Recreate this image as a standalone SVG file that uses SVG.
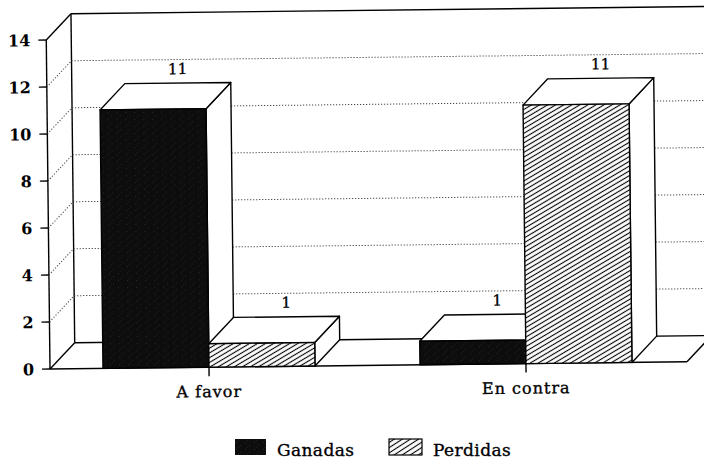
<svg xmlns="http://www.w3.org/2000/svg" width="704" height="460" viewBox="0 0 704 460">
  <defs>
    <pattern id="hatch" patternUnits="userSpaceOnUse" width="4" height="4.1" patternTransform="rotate(-30)">
      <rect width="4" height="4.1" fill="#fff"/>
      <line x1="0" y1="2.05" x2="4" y2="2.05" stroke="#000" stroke-width="1.1"/>
    </pattern>
    <pattern id="hatchLeg" patternUnits="userSpaceOnUse" width="4" height="4.4" patternTransform="rotate(-33)">
      <rect width="4" height="4.4" fill="#fff"/>
      <line x1="0" y1="2.2" x2="4" y2="2.2" stroke="#000" stroke-width="1.1"/>
    </pattern>
    <pattern id="solid" patternUnits="userSpaceOnUse" width="9" height="7">
      <rect width="9" height="7" fill="#0d0d0d"/>
      <rect x="2" y="1" width="0.8" height="0.8" fill="#3a3a3a"/>
      <rect x="6" y="4" width="0.8" height="0.8" fill="#2e2e2e"/>
      <rect x="4" y="6" width="0.7" height="0.7" fill="#333"/>
    </pattern>
  </defs>
  <style>
    .ln { stroke: #000; stroke-width: 1.4; fill: none; stroke-linejoin: round; }
    .face { fill: #fff; stroke: #000; stroke-width: 1.4; stroke-linejoin: round; }
    .grid { stroke: #444; stroke-width: 1; stroke-dasharray: 1.2 1.8; fill: none; }
    .tick { font-family: "DejaVu Serif", "Liberation Serif", serif; font-weight: bold; font-size: 16px; fill: #000; text-anchor: end; }
    .val { font-family: "DejaVu Serif", "Liberation Serif", serif; font-size: 15px; fill: #000; stroke: #000; stroke-width: 0.35; text-anchor: middle; }
    .cat { font-family: "DejaVu Serif", "Liberation Serif", serif; font-size: 16px; letter-spacing: 1px; fill: #000; stroke: #000; stroke-width: 0.35; text-anchor: middle; }
    .leg { font-family: "DejaVu Serif", "Liberation Serif", serif; font-size: 17px; letter-spacing: 0.4px; fill: #000; stroke: #000; stroke-width: 0.35; }
  </style>
  <rect width="704" height="460" fill="#fff"/>
  <g id="chart" transform="rotate(-0.65 50 369)">
    <g id="walls">
      <polygon points="75,14 760,14 760,343 75,343" fill="#fff"/>
      <line class="ln" x1="75" y1="14" x2="760" y2="14"/>
      <line class="ln" x1="75" y1="14" x2="75" y2="343"/>
      <line class="ln" x1="50" y1="40" x2="75" y2="14"/>
      <line class="ln" x1="50" y1="40" x2="50" y2="369"/>
      <g id="gridlines">
        <line class="grid" x1="75" y1="296" x2="760" y2="296"/>
        <line class="grid" x1="75" y1="249" x2="760" y2="249"/>
        <line class="grid" x1="75" y1="202" x2="760" y2="202"/>
        <line class="grid" x1="75" y1="155" x2="760" y2="155"/>
        <line class="grid" x1="75" y1="108" x2="760" y2="108"/>
        <line class="grid" x1="75" y1="61" x2="760" y2="61"/>
        <line class="grid" x1="50" y1="322" x2="75" y2="296"/>
        <line class="grid" x1="50" y1="275" x2="75" y2="249"/>
        <line class="grid" x1="50" y1="228" x2="75" y2="202"/>
        <line class="grid" x1="50" y1="181" x2="75" y2="155"/>
        <line class="grid" x1="50" y1="134" x2="75" y2="108"/>
        <line class="grid" x1="50" y1="87" x2="75" y2="61"/>
      </g>
      <g id="floor">
        <line class="ln" x1="50" y1="369" x2="687" y2="369"/>
        <line class="ln" x1="75" y1="343" x2="740" y2="343"/>
        <line class="ln" x1="50" y1="369" x2="75" y2="343"/>
        <line class="ln" x1="687" y1="369" x2="712" y2="343"/>
      </g>
    </g>
    <g id="y-axis">
      <line class="ln" x1="42" y1="369" x2="50" y2="369"/>
      <line class="ln" x1="42" y1="322" x2="50" y2="322"/>
      <line class="ln" x1="42" y1="275" x2="50" y2="275"/>
      <line class="ln" x1="42" y1="228" x2="50" y2="228"/>
      <line class="ln" x1="42" y1="181" x2="50" y2="181"/>
      <line class="ln" x1="42" y1="134" x2="50" y2="134"/>
      <line class="ln" x1="42" y1="87" x2="50" y2="87"/>
      <line class="ln" x1="42" y1="40" x2="50" y2="40"/>
      <text class="tick" x="34" y="375">0</text>
      <text class="tick" x="34" y="328">2</text>
      <text class="tick" x="34" y="281">4</text>
      <text class="tick" x="34" y="234">6</text>
      <text class="tick" x="34" y="187">8</text>
      <text class="tick" x="34" y="140">10</text>
      <text class="tick" x="34" y="93">12</text>
      <text class="tick" x="34" y="46">14</text>
    </g>
    <g id="bar-afavor-ganadas">
      <polygon class="face" points="209,110.5 234,84.5 234,343 209,369"/>
      <polygon class="face" points="103,110.5 209,110.5 234,84.5 128,84.5"/>
      <rect x="103" y="110.5" width="106" height="258.5" fill="url(#solid)" stroke="#000" stroke-width="1.4"/>
      <text class="val" x="181" y="75.5">11</text>
    </g>
    <g id="bar-afavor-perdidas">
      <polygon class="face" points="315,345.5 340,319.5 340,343 315,369"/>
      <polygon class="face" points="209,345.5 315,345.5 340,319.5 234,319.5"/>
      <rect x="209" y="345.5" width="106" height="23.5" fill="url(#hatch)" stroke="#000" stroke-width="1.4"/>
      <text class="val" x="287" y="310.5">1</text>
    </g>
    <g id="bar-encontra-ganadas">
      <polygon class="face" points="526,345.5 551,319.5 551,343 526,369"/>
      <polygon class="face" points="420,345.5 526,345.5 551,319.5 445,319.5"/>
      <rect x="420" y="345.5" width="106" height="23.5" fill="url(#solid)" stroke="#000" stroke-width="1.4"/>
      <text class="val" x="498" y="310.5">1</text>
    </g>
    <g id="bar-encontra-perdidas">
      <polygon class="face" points="632,110.5 657,84.5 657,343 632,369"/>
      <polygon class="face" points="526,110.5 632,110.5 657,84.5 551,84.5"/>
      <rect x="526" y="110.5" width="106" height="258.5" fill="url(#hatch)" stroke="#000" stroke-width="1.4"/>
      <text class="val" x="604" y="75.5">11</text>
    </g>
    <g id="x-axis">
      <line class="ln" x1="209" y1="369" x2="209" y2="378"/>
      <line class="ln" x1="526" y1="369" x2="526" y2="378"/>
      <text class="cat" x="209" y="399">A favor</text>
      <text class="cat" x="526" y="399">En contra</text>
    </g>
  </g>
  <g id="legend">
    <g id="legend-ganadas">
      <rect x="235" y="439" width="31" height="16" fill="url(#solid)"/>
      <text class="leg" x="277" y="456">Ganadas</text>
    </g>
    <g id="legend-perdidas">
      <rect x="389" y="439" width="33" height="16" fill="url(#hatchLeg)" stroke="#000" stroke-width="1.2"/>
      <text class="leg" x="433" y="456">Perdidas</text>
    </g>
  </g>
</svg>
